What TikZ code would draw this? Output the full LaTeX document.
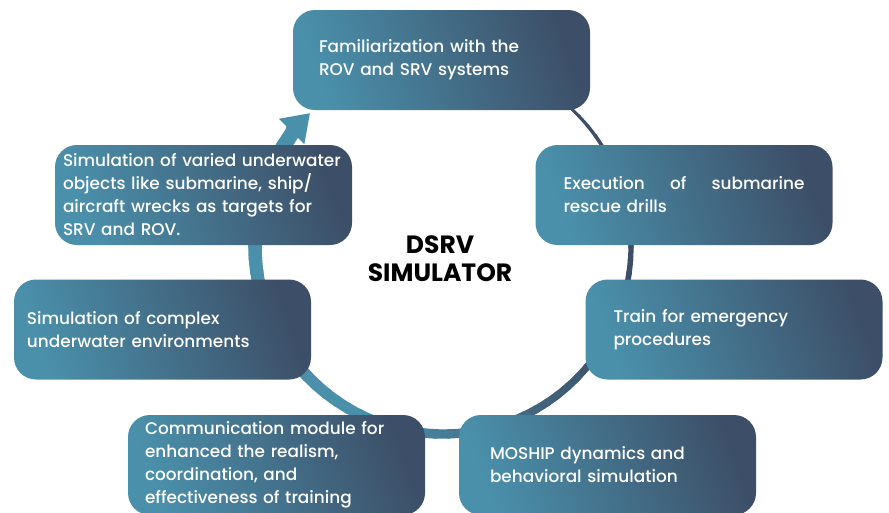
\documentclass[tikz,border=0pt]{standalone}
\usepackage{fontspec}
\setmainfont{Poppins}
\newfontfamily\cardfont{Poppins Medium}
\usetikzlibrary{arrows.meta}
\definecolor{seablue}{HTML}{4A90AB}
\definecolor{deepslate}{HTML}{3D4F68}
\tikzset{
  card/.style={rounded corners=22pt, minimum width=297pt, minimum height=100pt,
    text width=#1, align=left, text=white, inner sep=0pt,
    font=\cardfont\fontsize{16.9}{23}\selectfont,
    left color=seablue, right color=deepslate, shading angle=110},
  hubtitle/.style={align=center, font=\fontsize{25}{28}\selectfont\bfseries}
}

\begin{document}
\begin{tikzpicture}[line cap=round,line join=round,x=1pt,y=-1pt]
\useasboundingbox (0,0) rectangle (889,512);
\coordinate (hub) at (443,246);
% ring, thin and dark at the top right, thick and light at the left
\foreach \a in {-80,-76,...,208} {
  \pgfmathsetmacro\w{1.5+(\a+80)*0.047}
  \pgfmathsetmacro\m{min(100,max(0,(\a-30)*1.2))}
  \draw[line width=\w pt, color=seablue!\m!deepslate] ([shift={(\a:188)}]hub) arc (\a:\a+4.5:188);
}
\draw[line width=15pt, seablue, -{Triangle[width=34pt,length=26pt]}] ([shift={(210:188)}]hub) arc (210:225:188);
% cards
\node[card=245pt] (famil) at (441.5,60) {Familiarization with the\\ROV and SRV systems};
\node[card=241pt] (drills) at (684,195) {\hbox to 241pt{Execution\hfil of\hfil submarine}\\rescue drills};
\node[card=241pt] (emerg) at (734,329.5) {Train for emergency\\procedures};
\node[card=235pt] (moship) at (607.5,465) {MOSHIP dynamics and\\behavioral simulation};
\node[card=263pt] (comms) at (276.5,465) {Communication module for\\enhanced the realism,\\coordination, and\\effectiveness of training};
\node[card=271pt] (envir) at (162.5,329.5) {Simulation of complex\\underwater environments};
\node[card=281pt] (objects) at (203.5,195) {Simulation of varied underwater\\objects like submarine, ship/\\aircraft wrecks as targets for\\SRV and ROV.};
\node[hubtitle] (title) at (440,259) {DSRV\\SIMULATOR};
\end{tikzpicture}
\end{document}
